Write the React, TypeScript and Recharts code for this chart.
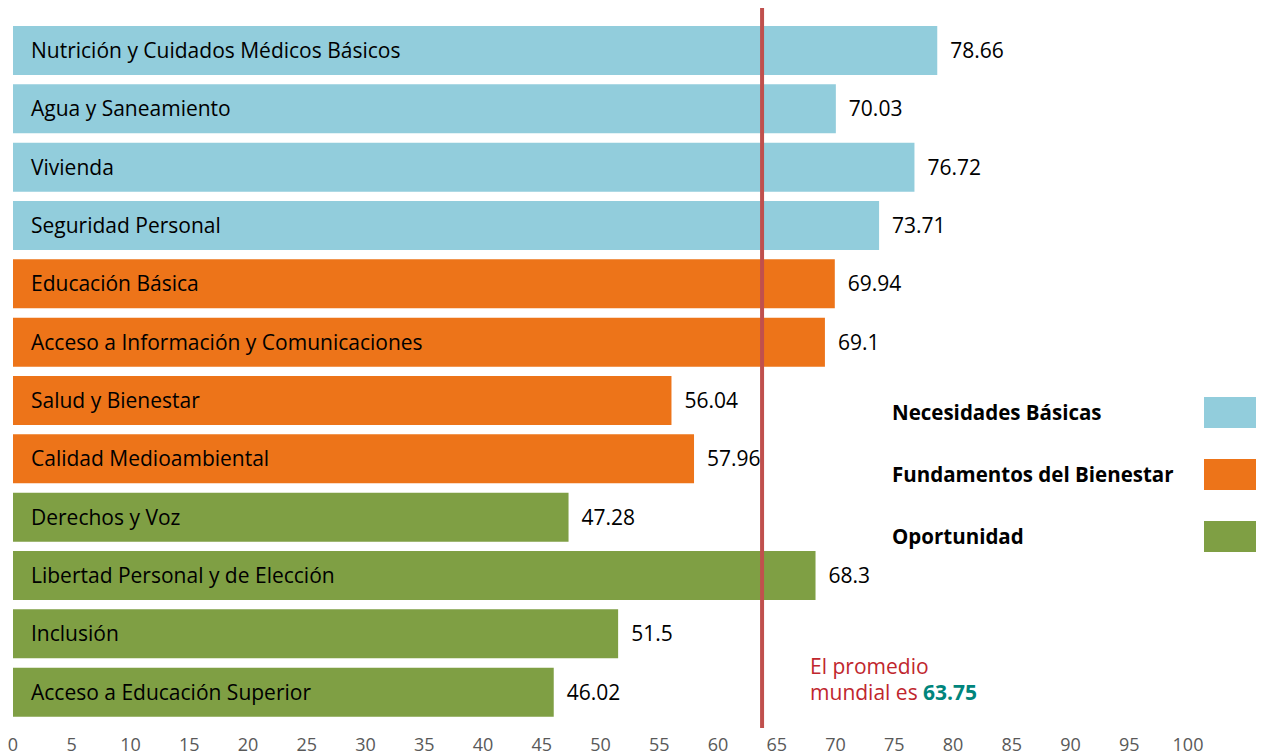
import React from 'react';
import {
  BarChart,
  Bar,
  XAxis,
  YAxis,
  Cell,
  LabelList,
  ReferenceLine
} from 'recharts';

const categories = [
  'Nutrición y Cuidados Médicos Básicos',
  'Agua y Saneamiento',
  'Vivienda',
  'Seguridad Personal',
  'Educación Básica',
  'Acceso a Información y Comunicaciones',
  'Salud y Bienestar',
  'Calidad Medioambiental',
  'Derechos y Voz',
  'Libertad Personal y de Elección',
  'Inclusión',
  'Acceso a Educación Superior'
];

const scores = [78.66, 70.03, 76.72, 73.71, 69.94, 69.1, 56.04, 57.96, 47.28, 68.3, 51.5, 46.02];

// which group each category belongs to
const groupOf = [0, 0, 0, 0, 1, 1, 1, 1, 2, 2, 2, 2];

const groupNames = ['Necesidades Básicas', 'Fundamentos del Bienestar', 'Oportunidad'];
const groupColors = ['#92CDDC', '#ED7419', '#7F9F44']; // blue, orange, green

const xTicks = [0, 5, 10, 15, 20, 25, 30, 35, 40, 45, 50, 55, 60, 65, 70, 75, 80, 85, 90, 95, 100];

const worldAverage = 63.75;

const FONT = '"Open Sans", sans-serif';

const data = categories.map((name, i) => ({
  name,
  value: scores[i],
  group: groupOf[i]
}));

// line (a bit taller than the plot) + the note under it
const AverageMark = (props: any) => {
  const { viewBox } = props;
  const lx = viewBox.x;
  const top = viewBox.y;
  const bottom = viewBox.y + viewBox.height;
  const x = lx + 48;
  return (
    <g>
      <line x1={lx} x2={lx} y1={top - 13} y2={bottom + 7} stroke="#C0504D" strokeWidth={4} />
      <text fontFamily={FONT} fontSize={21} fill="#C0262D">
        <tspan x={x} y={bottom - 47}>El promedio</tspan>
        <tspan x={x} y={bottom - 21}>
          mundial es{' '}
          <tspan fill="#00857C" fontWeight={700}>{worldAverage}</tspan>
        </tspan>
      </text>
    </g>
  );
};

export default function App() {
  return (
    <div style={{ width: 1256, height: 748, position: 'relative' }}>
      <BarChart
        width={1256}
        height={748}
        layout="vertical"
        data={data}
        margin={{ top: 13, right: 76, left: 5, bottom: 0 }}
      >
        <XAxis
          type="number"
          domain={[0, 100]}
          ticks={xTicks}
          interval={0}
          axisLine={false}
          tickLine={false}
          tickMargin={11}
          height={35}
          tick={{ fill: '#595959', fontSize: 18, fontFamily: FONT }}
        />
        <YAxis type="category" dataKey="name" hide />
        <Bar dataKey="value" barSize={49} isAnimationActive={false}>
          {data.map((d, i) => (
            <Cell key={`cell-${i}`} fill={groupColors[d.group]} />
          ))}
          <LabelList
            dataKey="name"
            position="insideLeft"
            offset={18}
            style={{ fill: '#000', fontSize: 21, fontFamily: FONT }}
          />
          <LabelList
            dataKey="value"
            position="right"
            offset={13}
            style={{ fill: '#000', fontSize: 21, fontFamily: FONT }}
          />
        </Bar>
        <ReferenceLine
          x={worldAverage}
          ifOverflow="visible"
          stroke="none"
          strokeWidth={0}
          label={AverageMark}
        />
      </BarChart>

      {/* Legend */}
      <div style={{ position: 'absolute', top: 373, left: 884, fontFamily: FONT }}>
        {groupNames.map((g, i) => (
          <div key={g} style={{ display: 'flex', alignItems: 'center', height: 62 }}>
            <span style={{ width: 312, fontWeight: 700, fontSize: 20.5, color: '#000' }}>{g}</span>
            <span
              style={{ display: 'inline-block', width: 55, height: 31, backgroundColor: groupColors[i] }}
            />
          </div>
        ))}
      </div>
    </div>
  );
}
